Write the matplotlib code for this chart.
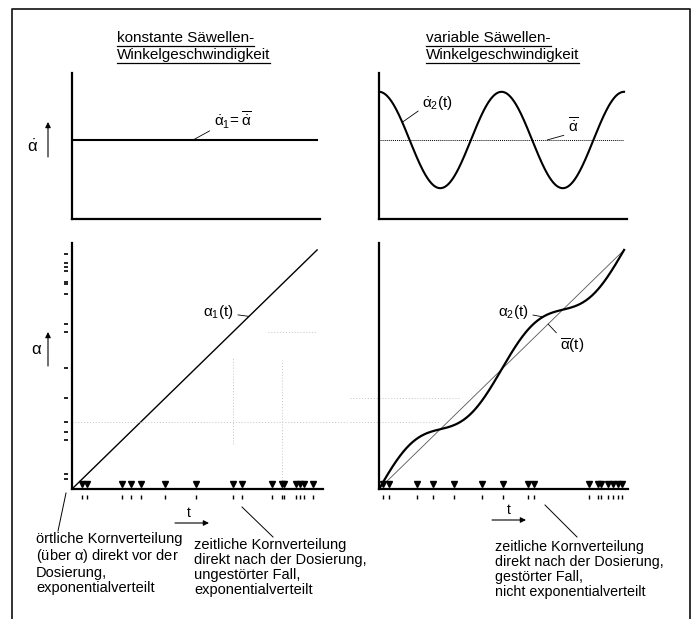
import numpy as np
import matplotlib
matplotlib.use("Agg")
import matplotlib.pyplot as plt
from matplotlib.lines import Line2D
from matplotlib.transforms import offset_copy

# --- Daten (normiert: t in [0,1], mittlere Drehrate = 1) ---
# örtliche Lage der Körner (alpha) direkt vor der Dosierung
grain_alpha = [0.042, 0.063, 0.203, 0.240, 0.280, 0.379, 0.505, 0.657,
               0.692, 0.816, 0.858, 0.866, 0.913, 0.930, 0.947, 0.984]
# Dosierzeitpunkte bei konstanter Drehrate (alpha1 = t)
t_grain_const = grain_alpha
# Dosierzeitpunkte bei variabler Drehrate
t_grain_var = [0.016, 0.041, 0.155, 0.220, 0.306, 0.420, 0.506, 0.608,
               0.633, 0.857, 0.894, 0.906, 0.935, 0.955, 0.976, 0.992]

mean_rate = 1.0      # alpha_dot quer
rate_amp = 0.61      # Amplitude von alpha_dot_2
period = 0.5         # zwei Perioden im Bild
alpha2_dev = 0.06    # Abweichung alpha_2 von alpha quer

W, H = 698, 619
plt.rcParams["font.family"] = ["Liberation Sans", "DejaVu Sans"]
plt.rcParams["mathtext.fontset"] = "custom"
plt.rcParams["mathtext.rm"] = "Liberation Sans"
plt.rcParams["mathtext.it"] = "Liberation Sans"
plt.rcParams["mathtext.bf"] = "Liberation Sans:bold"


def box(x0, y0, x1, y1):
    # Pixel-Rechteck -> Figure-Koordinaten
    return [x0 / W, 1 - y1 / H, (x1 - x0) / W, (y1 - y0) / H]


def fx(x):
    return x / W


def fy(y):
    return 1 - y / H


t = np.linspace(0, 1, 500)
rate2 = mean_rate + rate_amp * np.cos(2 * np.pi * t / period)
alpha2 = mean_rate * t + alpha2_dev * np.sin(2 * np.pi * t / period)

fig = plt.figure(figsize=(W / 100, H / 100), dpi=100)

ax_tl = fig.add_axes(box(72, 73, 320, 219))
ax_tr = fig.add_axes(box(379, 73, 627, 219))
ax_bl = fig.add_axes(box(72, 243, 323, 489))
ax_br = fig.add_axes(box(379, 243, 628, 489))

for ax in (ax_tl, ax_tr, ax_bl, ax_br):
    ax.spines["top"].set_visible(False)
    ax.spines["right"].set_visible(False)
    for s in ("left", "bottom"):
        ax.spines[s].set_linewidth(1.6)
    ax.set_xticks([])
    ax.set_yticks([])
    ax.patch.set_alpha(0)

ax_tl.set_xlim(0, 1.012); ax_tl.set_ylim(0, 1.848)
ax_tr.set_xlim(0, 1.012); ax_tr.set_ylim(0, 1.848)
ax_bl.set_xlim(0, 1.024); ax_bl.set_ylim(0, 1.029)
ax_br.set_xlim(0, 1.016); ax_br.set_ylim(0, 1.029)

# --- oben links: konstante Drehrate ---
ax_tl.plot(t, np.full_like(t, mean_rate), color="k", lw=1.5)
ax_tl.annotate(r"$\dot{\alpha}_1\!=\overline{\dot{\alpha}}$", xy=(0.494, mean_rate),
               xytext=(0.578, 1.25), fontsize=11, va="center", ha="left",
               arrowprops=dict(arrowstyle="-", lw=0.6, color="k",
                               shrinkA=1, shrinkB=0, relpos=(0, 0.1)))

# --- oben rechts: variable Drehrate ---
ax_tr.plot(t, rate2, color="k", lw=1.5)
ax_tr.plot(t, np.full_like(t, mean_rate), color="k", lw=0.7, ls=(0, (1, 1)))
t_lab = 0.095
ax_tr.annotate(r"$\dot{\alpha}_2$(t)", xy=(t_lab, mean_rate + rate_amp * np.cos(2 * np.pi * t_lab / period)),
               xytext=(0.176, 1.47), fontsize=11, va="center", ha="left",
               arrowprops=dict(arrowstyle="-", lw=0.6, color="k",
                               shrinkA=1, shrinkB=0, relpos=(0, 0.2)))
ax_tr.annotate(r"$\overline{\dot{\alpha}}$", xy=(0.686, mean_rate),
               xytext=(0.771, 1.17), fontsize=11, va="center", ha="left",
               arrowprops=dict(arrowstyle="-", lw=0.6, color="k",
                               shrinkA=1, shrinkB=0, relpos=(0, 0.1)))

# --- unten links: alpha_1(t) ---
ax_bl.plot(t, mean_rate * t, color="k", lw=1.0)
ax_bl.annotate(r"$\alpha_1$(t)", xy=(0.722, 0.722), xytext=(0.535, 0.742),
               fontsize=11, va="center", ha="left",
               arrowprops=dict(arrowstyle="-", lw=0.6, color="k",
                               shrinkA=1, shrinkB=0, relpos=(1, 0.35)))

# --- unten rechts: alpha_2(t) ---
ax_br.plot(t, mean_rate * t, color="#555555", lw=0.6)
ax_br.plot(t, alpha2, color="k", lw=1.6)
t_lab2 = 0.669
ax_br.annotate(r"$\alpha_2$(t)", xy=(t_lab2, t_lab2 + alpha2_dev * np.sin(2 * np.pi * t_lab2 / period)),
               xytext=(0.486, 0.742), fontsize=11, va="center", ha="left",
               arrowprops=dict(arrowstyle="-", lw=0.6, color="k",
                               shrinkA=1, shrinkB=0, relpos=(1, 0.35)))
ax_br.annotate(r"$\overline{\alpha}$(t)", xy=(0.690, 0.690), xytext=(0.739, 0.600),
               fontsize=11, va="center", ha="left",
               arrowprops=dict(arrowstyle="-", lw=0.6, color="k",
                               shrinkA=1, shrinkB=0, relpos=(0.05, 0.9)))

# schwache Projektionslinien (wie im Scan)
faint = dict(color="#c4c4c4", lw=0.7, ls=(0, (1, 2)), clip_on=False)
ax_bl.plot([0, 1.12], [grain_alpha[4]] * 2, **faint)
ax_br.plot([-0.12, 0.25], [grain_alpha[4]] * 2, **faint)
ax_br.plot([-0.12, 0.33], [grain_alpha[5]] * 2, **faint)
ax_bl.plot([t_grain_const[7]] * 2, [0.19, 0.55], **faint)
ax_bl.plot([t_grain_const[10]] * 2, [0.0, 0.54], **faint)
ax_bl.plot([0.80, 1.0], [grain_alpha[7]] * 2, **faint)

# Körner als Dreiecke auf der t-Achse, kleine Striche darunter
for ax, tg in ((ax_bl, t_grain_const), (ax_br, t_grain_var)):
    up = offset_copy(ax.transData, fig=fig, y=5, units="dots")
    down = offset_copy(ax.transData, fig=fig, y=-8, units="dots")
    zeros = np.zeros(len(tg))
    ax.plot(tg, zeros, "v", ms=4.5, color="k", transform=up, clip_on=False)
    ax.plot(tg, zeros, "|", ms=3.5, mew=1.0, color="k", transform=down, clip_on=False)

# örtliche Verteilung als Striche an der alpha-Achse
left = offset_copy(ax_bl.transData, fig=fig, x=-6, units="dots")
ax_bl.plot(np.zeros(len(grain_alpha)), grain_alpha, "_", ms=3.5, mew=1.2,
           color="k", transform=left, clip_on=False)

# --- Achsenbeschriftungen mit Pfeilen ---
arrow = dict(arrowstyle="-|>", lw=0.8, color="k", mutation_scale=8, shrinkA=0, shrinkB=0)
fig.add_artist(plt.Annotation("", xy=(fx(48), fy(122)), xytext=(fx(48), fy(157)),
                              xycoords="figure fraction", arrowprops=arrow))
fig.text(fx(33), fy(147), r"$\dot{\alpha}$", fontsize=12, ha="center", va="center")
fig.add_artist(plt.Annotation("", xy=(fx(48), fy(332)), xytext=(fx(48), fy(366)),
                              xycoords="figure fraction", arrowprops=arrow))
fig.text(fx(37), fy(350), r"$\alpha$", fontsize=12, ha="center", va="center")

for x0, x1, y, tx, ty in ((175, 209, 523, 189, 513), (492, 526, 520, 509, 510)):
    fig.add_artist(plt.Annotation("", xy=(fx(x1), fy(y)), xytext=(fx(x0), fy(y)),
                                  xycoords="figure fraction", arrowprops=arrow))
    fig.text(fx(tx), fy(ty), "t", fontsize=10, ha="center", va="center")

# --- Überschriften (unterstrichen) ---
titles = [
    fig.text(fx(117), fy(38), "konstante Säwellen-", fontsize=11, va="center"),
    fig.text(fx(117), fy(55), "Winkelgeschwindigkeit", fontsize=11, va="center"),
    fig.text(fx(426), fy(38), "variable Säwellen-", fontsize=11, va="center"),
    fig.text(fx(426), fy(55), "Winkelgeschwindigkeit", fontsize=11, va="center"),
]

# --- Texte unten ---
fig.text(fx(36), fy(532), "örtliche Kornverteilung\n(über $\\alpha$) direkt vor der\n"
         "Dosierung,\nexponentialverteilt", fontsize=10.5, va="top", ha="left",
         linespacing=1.08)
fig.text(fx(194), fy(538), "zeitliche Kornverteilung\ndirekt nach der Dosierung,\n"
         "ungestörter Fall,\nexponentialverteilt", fontsize=10.5, va="top", ha="left",
         linespacing=1.08)
fig.text(fx(495), fy(540), "zeitliche Kornverteilung\ndirekt nach der Dosierung,\n"
         "gestörter Fall,\nnicht exponentialverteilt", fontsize=10.3, va="top", ha="left",
         linespacing=1.1)

# Hinweislinien zu den Texten
for (x0, y0), (x1, y1) in (((66, 493), (58, 531)), ((242, 507), (273, 537)),
                           ((545, 505), (577, 537))):
    fig.add_artist(Line2D([fx(x0), fx(x1)], [fy(y0), fy(y1)], lw=0.7, color="k"))

# Rahmen (unten offen)
fig.add_artist(Line2D([fx(12), fx(12), fx(690), fx(690)], [0, fy(9), fy(9), 0],
                      lw=1.3, color="#222222"))

# Unterstreichung der Überschriften
fig.canvas.draw()
renderer = fig.canvas.get_renderer()
for txt in titles:
    bb = txt.get_window_extent(renderer)
    y = bb.y0 - 0.5
    fig.add_artist(Line2D([bb.x0 / W, bb.x1 / W], [y / H, y / H], lw=0.9, color="k"))

fig.savefig("out.png", dpi=100)
